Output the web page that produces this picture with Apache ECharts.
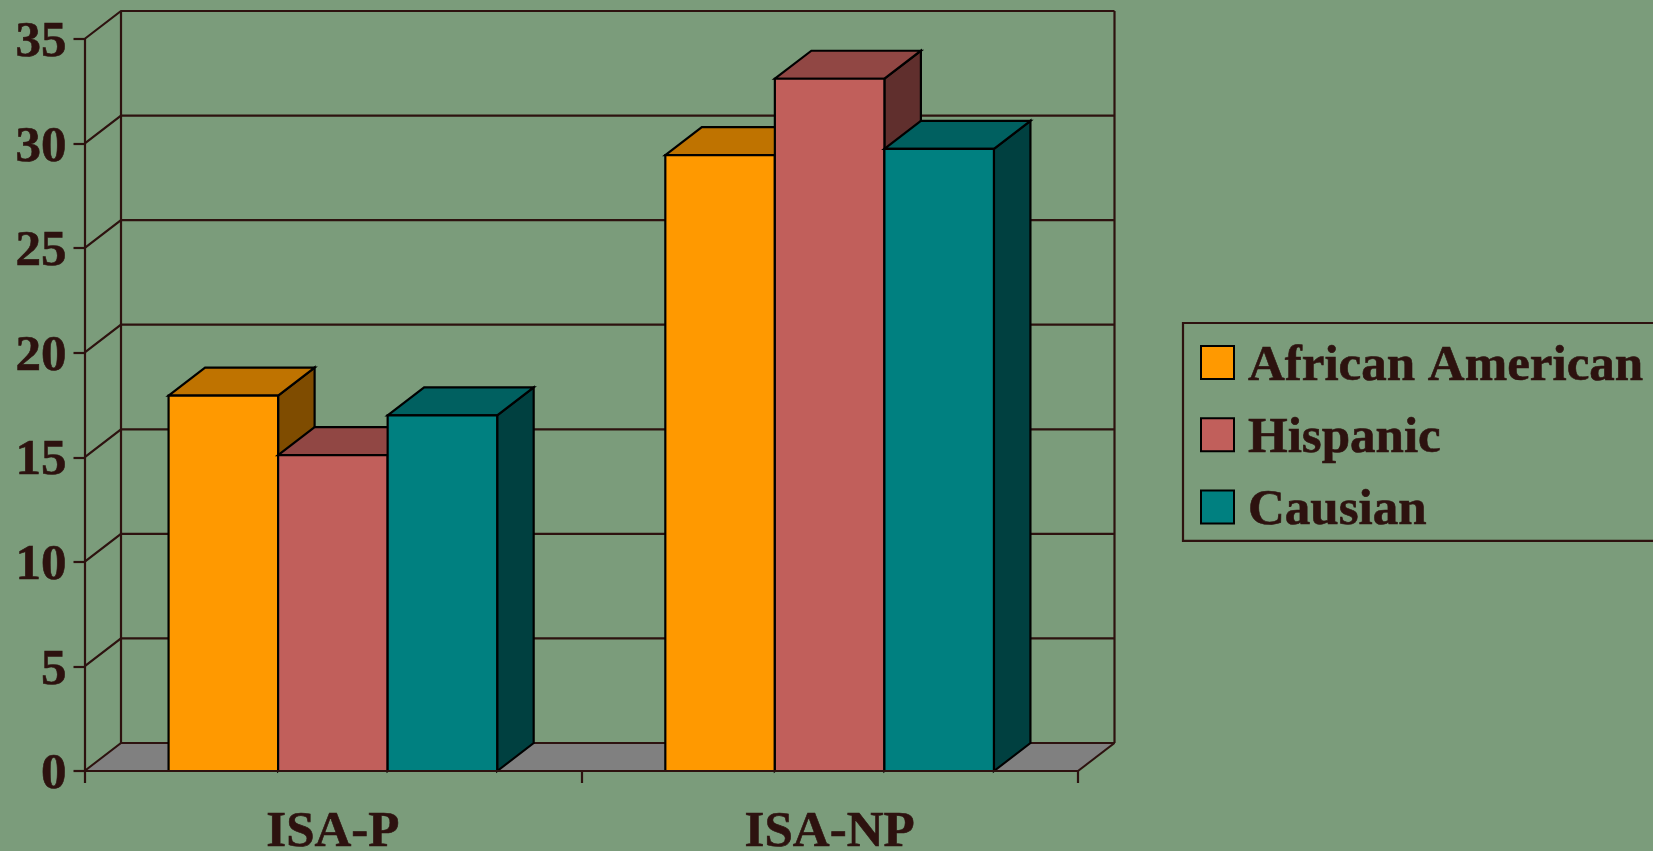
<!DOCTYPE html>
<html>
<head>
<meta charset="utf-8">
<style>html,body{margin:0;padding:0;background:#7B9C7B;overflow:hidden}#c{width:1653px;height:851px}</style>
<script src="https://cdn.jsdelivr.net/npm/echarts@6/dist/echarts.min.js"></script>
</head>
<body>
<div id="c"></div>
<script>
var categories = ['ISA-P', 'ISA-NP'];
var africanAmerican = [17.95, 29.45];
var hispanic = [15.1, 33.1];
var causian = [17.0, 29.75];
var yTicks = [0, 5, 10, 15, 20, 25, 30, 35];

var INK = '#2D120F', FONT = '"Liberation Serif"';
var DX = 36.5, DY = 28, BAR_RATIO = 0.2205, LW = 2.2;
var palette = [
  {name: 'African American', values: africanAmerican, front: '#FF9900', top: '#BF7300', side: '#7F4C00', slot: 0},
  {name: 'Hispanic', values: hispanic, front: '#C15F5B', top: '#914744', side: '#602F2D', slot: 1},
  {name: 'Causian', values: causian, front: '#008080', top: '#006060', side: '#004040', slot: 2}
];
var textLook = {color: INK, fontFamily: FONT, fontWeight: 'bold', fontSize: 51, textBorderColor: INK, textBorderWidth: 0.6};

function poly(points, fill, stroke, w) {
  return {type: 'polygon', shape: {points: points}, style: {fill: fill, stroke: stroke, lineWidth: w, lineJoin: 'miter'}};
}
function line(points, w) {
  return {type: 'polyline', shape: {points: points}, style: {fill: 'none', stroke: INK, lineWidth: w}};
}

var wallSeries = {
  type: 'custom', name: 'wall', silent: true, z: 1, clip: false,
  coordinateSystem: 'cartesian2d',
  data: yTicks.map(function (v) { return [0, v]; }),
  renderItem: function (params, api) {
    var cs = params.coordSys, x0 = cs.x, x1 = cs.x + cs.width;
    var y = api.coord([0, api.value(1)])[1];
    var kids = [line([[x0, y], [x0 + DX, y - DY], [x1 + DX, y - DY]], LW)];
    if (api.value(1) === 0) {
      kids.unshift(poly([[x0, y], [x0 + DX, y - DY], [x1 + DX, y - DY], [x1, y]], '#808080', 'none', 0));
      kids.push(line([[x1, y], [x1 + DX, y - DY]], LW));
      kids.push(line([[x0 + DX, y - DY], [x0 + DX, cs.y - DY]], LW));
      kids.push(line([[x1 + DX, y - DY], [x1 + DX, cs.y - DY]], LW));
    }
    return {type: 'group', children: kids};
  }
};

var barSeries = palette.map(function (s, idx) {
  return {
    type: 'custom', name: s.name, z: 2 + idx, clip: false,
    coordinateSystem: 'cartesian2d',
    itemStyle: {color: s.front},
    data: s.values.map(function (v, i) { return [i, v]; }),
    renderItem: function (params, api) {
      var p = api.coord([api.value(0), api.value(1)]);
      var base = api.coord([api.value(0), 0]);
      var band = api.size([1, 0])[0];
      var w = band * BAR_RATIO;
      var l = p[0] + (s.slot - 1.5) * w, r = l + w, t = p[1], b = base[1];
      return {type: 'group', children: [
        poly([[r, t], [r + DX, t - DY], [r + DX, b - DY], [r, b]], s.side, '#000', LW),
        poly([[l, t], [l + DX, t - DY], [r + DX, t - DY], [r, t]], s.top, '#000', LW),
        poly([[l, t], [r, t], [r, b], [l, b]], s.front, '#000', LW)
      ]};
    }
  };
});

var chart = echarts.init(document.getElementById('c'), null, {renderer: 'canvas'});
chart.setOption({
  animation: false,
  backgroundColor: '#7B9C7B',
  grid: {left: 84.5, right: 575, top: 39, bottom: 80, containLabel: false, outerBoundsMode: 'none'},
  xAxis: {
    type: 'category', data: categories, boundaryGap: true, z: 10,
    axisLine: {lineStyle: {color: INK, width: LW}},
    axisTick: {show: true, length: 12, lineStyle: {color: INK, width: LW}},
    axisLabel: Object.assign({margin: 36}, textLook)
  },
  yAxis: {
    type: 'value', min: 0, max: 35, interval: 5, z: 10,
    axisLine: {show: true, onZero: false, lineStyle: {color: INK, width: LW}},
    axisTick: {show: true, length: 11, lineStyle: {color: INK, width: LW}},
    splitLine: {show: false},
    axisLabel: {
      margin: 18, showMinLabel: true, showMaxLabel: true,
      formatter: function (v) { return '{n|' + v + '}'; },
      rich: {n: Object.assign({padding: [8, 0, 0, 0]}, textLook)}
    }
  },
  legend: {
    data: palette.map(function (s) { return s.name; }),
    selectedMode: false, orient: 'vertical', left: 1183, top: 323,
    align: 'left', icon: 'rect', itemWidth: 33, itemHeight: 33, itemGap: 13,
    padding: [10, 30, 4, 17],
    borderColor: INK, borderWidth: LW, backgroundColor: 'transparent',
    itemStyle: {borderColor: '#000', borderWidth: 2},
    formatter: function (name) { return '{t|' + name + '}'; },
    textStyle: {rich: {t: Object.assign({lineHeight: 50, padding: [8, 0, 0, 9]}, textLook)}}
  },
  series: [wallSeries].concat(barSeries)
});
</script>
</body>
</html>
